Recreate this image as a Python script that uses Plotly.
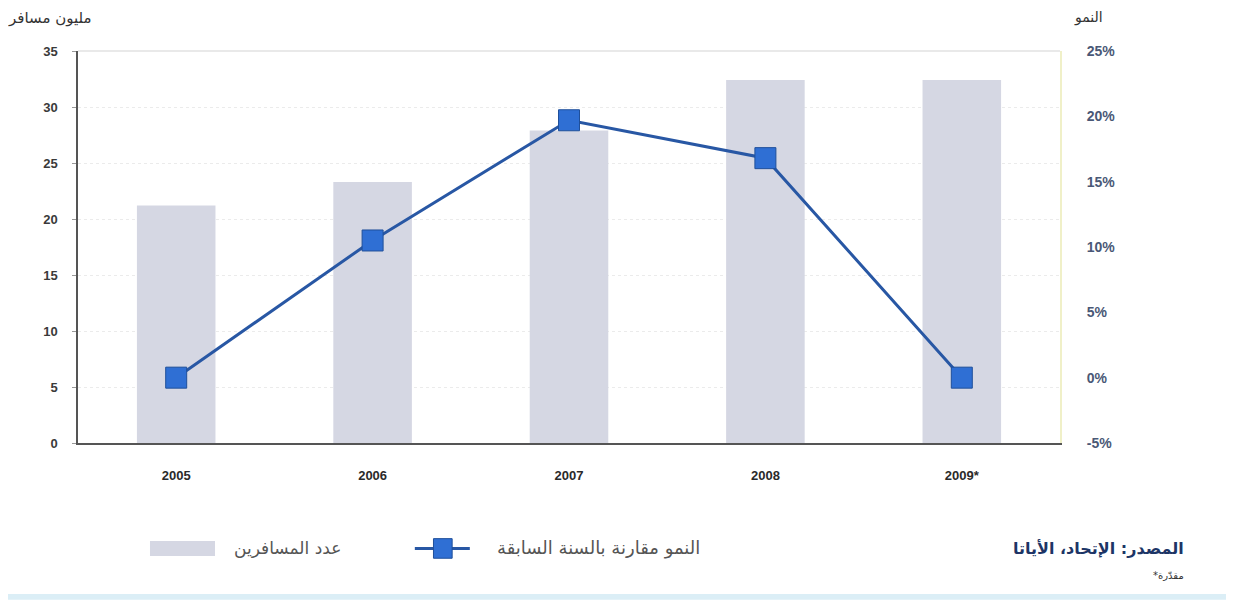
import plotly.graph_objects as go

years = ["2005", "2006", "2007", "2008", "2009*"]
passengers = [21.2, 23.3, 27.9, 32.4, 32.4]  # million passengers
growth = [0.0, 0.105, 0.197, 0.168, 0.0]  # growth vs previous year

left_ticks = [0, 5, 10, 15, 20, 25, 30, 35]
right_ticks = [-0.05, 0.0, 0.05, 0.10, 0.15, 0.20, 0.25]
right_tick_labels = ["-5%", "0%", "5%", "10%", "15%", "20%", "25%"]

bar_label = "عدد المسافرين"
line_label = "النمو مقارنة بالسنة السابقة"
left_title = "مليون مسافر"
right_title = "النمو"
source_text = "المصدر: الإتحاد، الأياتا"
note_text = "*مقدّرة"

BAR_COLOR = "#d5d7e3"
LINE_COLOR = "#2857a4"
MARKER_COLOR = "#2f6fd4"
AR_FONT = "DejaVu Sans, Noto Sans"

fig = go.Figure()
fig.add_trace(go.Bar(x=years, y=passengers, marker=dict(color=BAR_COLOR, line=dict(width=0)),
                     width=0.4, name=bar_label, showlegend=False))
fig.add_trace(go.Scatter(x=years, y=growth, yaxis="y2", mode="lines+markers",
                         line=dict(color=LINE_COLOR, width=3),
                         marker=dict(symbol="square", size=21, color=MARKER_COLOR,
                                     line=dict(color="#1f4f9a", width=1)),
                         name=line_label, showlegend=False))

fig.update_layout(
    width=1234, height=600,
    margin=dict(l=70, r=182, t=43, b=165),
    paper_bgcolor="white", plot_bgcolor="white",
    font=dict(family="Liberation Sans, Arial, sans-serif"),
    xaxis=dict(type="category", showgrid=False, showline=True, linecolor="#555555", linewidth=1.5,
               ticks="", tickfont=dict(family="Liberation Sans, Arial", size=13, color="#2a2a2a",
                                       weight="bold"),
               ticklabelstandoff=20, zeroline=False),
    yaxis=dict(range=[0, 35], tickvals=left_ticks, showline=True, linecolor="#555555", linewidth=1.5,
               ticks="outside", ticklen=4, tickcolor="#999999",
               tickfont=dict(family="Liberation Sans, Arial", size=13, color="#3a3a3a", weight="bold"),
               ticklabelstandoff=12,
               showgrid=True, gridcolor="#ebebeb", griddash="dot", gridwidth=1, zeroline=False),
    yaxis2=dict(range=[-0.05, 0.25], tickvals=right_ticks, ticktext=right_tick_labels,
                overlaying="y", side="right",
                showline=True, linecolor="#f0f0c8", linewidth=2, ticks="", showgrid=False, zeroline=False,
                tickfont=dict(family="Liberation Sans, Arial", size=14, color="#4a5876", weight="bold"),
                ticklabelstandoff=22),
    bargap=0.6,
)

# top border line
fig.add_shape(type="line", xref="paper", yref="paper", x0=0, x1=1, y0=1, y1=1,
              line=dict(color="#e2e2e2", width=1.5))

# axis titles
fig.add_annotation(text=left_title, xref="paper", yref="paper", x=-0.0285, y=1.085, showarrow=False,
                   xanchor="center", yanchor="middle",
                   font=dict(family=AR_FONT, size=15, color="#333333"))
fig.add_annotation(text=right_title, xref="paper", yref="paper", x=1.0295, y=1.085, showarrow=False,
                   xanchor="center", yanchor="middle",
                   font=dict(family=AR_FONT, size=14, color="#333333"))

# manual legend
fig.add_shape(type="rect", xref="paper", yref="paper", x0=0.0733, x1=0.1395, y0=-0.288, y1=-0.25,
              fillcolor=BAR_COLOR, line=dict(width=0))
fig.add_annotation(text=bar_label, xref="paper", yref="paper", x=0.213, y=-0.269, showarrow=False,
                   xanchor="center", yanchor="middle",
                   font=dict(family=AR_FONT, size=17, color="#555555"))
fig.add_shape(type="line", xref="paper", yref="paper", x0=0.343, x1=0.399, y0=-0.269, y1=-0.269,
              line=dict(color=LINE_COLOR, width=3))
fig.add_shape(type="rect", xref="paper", yref="paper", x0=0.362, x1=0.381, y0=-0.294, y1=-0.244,
              fillcolor=MARKER_COLOR, line=dict(color="#1f4f9a", width=1))
fig.add_annotation(text=line_label, xref="paper", yref="paper", x=0.530, y=-0.269, showarrow=False,
                   xanchor="center", yanchor="middle",
                   font=dict(family=AR_FONT, size=18, color="#555555"))

# source
fig.add_annotation(text=source_text, xref="paper", yref="paper", x=1.128, y=-0.269, showarrow=False,
                   xanchor="right", yanchor="middle",
                   font=dict(family=AR_FONT, size=16, color="#1d3566", weight="bold"))
fig.add_annotation(text=note_text, xref="paper", yref="paper", x=1.128, y=-0.337, showarrow=False,
                   xanchor="right", yanchor="middle",
                   font=dict(family=AR_FONT, size=10, color="#333333"))

# bottom strip
fig.add_shape(type="rect", xref="paper", yref="paper", x0=-0.08, x1=1.18, y0=-0.4, y1=-0.385,
              fillcolor="#dbeef6", line=dict(width=0))

fig.write_html("out.html")
